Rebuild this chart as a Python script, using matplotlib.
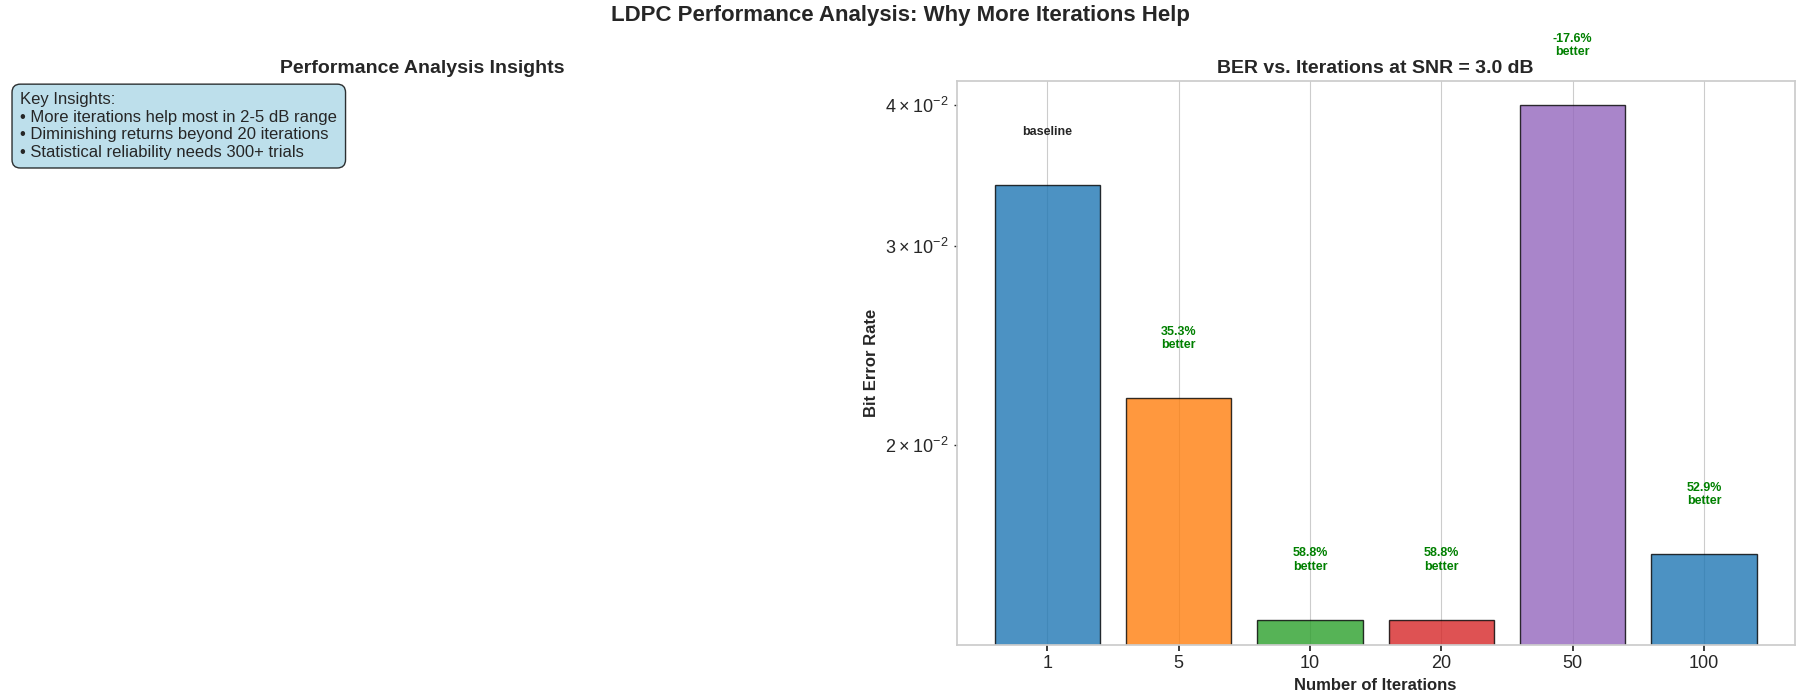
import numpy as np
import matplotlib
matplotlib.use("Agg")
import matplotlib.pyplot as plt

plt.style.use("seaborn-v0_8-whitegrid")

# data
iterations = ["1", "5", "10", "20", "50", "100"]
ber = [0.034, 0.022, 0.014, 0.014, 0.040, 0.016]
bar_colors = ["#1f77b4", "#ff7f0e", "#2ca02c", "#d62728", "#9467bd", "#1f77b4"]
snr_db = 3.0

insights = ("Key Insights:\n"
            "\u2022 More iterations help most in 2-5 dB range\n"
            "\u2022 Diminishing returns beyond 20 iterations\n"
            "\u2022 Statistical reliability needs 300+ trials")

plt.rcParams["xtick.major.size"] = 4
plt.rcParams["xtick.major.width"] = 1.25
plt.rcParams["ytick.minor.size"] = 2.5
plt.rcParams["ytick.minor.width"] = 1.0
plt.rcParams["axes.linewidth"] = 1.25

fig = plt.figure(figsize=(18, 7), dpi=100)
fig.suptitle("LDPC Performance Analysis: Why More Iterations Help",
             fontsize=16, fontweight="bold", y=0.993)

# left panel: text only
ax1 = fig.add_axes([0.002, 0.079, 0.465, 0.805])
ax1.axis("off")
ax1.set_title("Performance Analysis Insights", fontsize=14, fontweight="bold")
ax1.text(0.02, 0.98, insights, transform=ax1.transAxes, fontsize=12,
         va="top", ha="left",
         bbox=dict(boxstyle="round,pad=0.5", facecolor="lightblue", alpha=0.8))

# right panel: BER bars
ax2 = fig.add_axes([0.5315, 0.079, 0.4655, 0.805])
x = np.arange(len(iterations))
ax2.bar(x, ber, width=0.8, color=bar_colors, alpha=0.8, edgecolor="black")
ax2.set_yscale("log")
ax2.set_ylim(min(ber) * 0.95, max(ber) * 1.05)
ax2.set_xticks(x)
ax2.set_xticklabels(iterations)
ax2.tick_params(axis="both", labelsize=13)
ax2.tick_params(axis="y", which="minor", labelsize=13)
ax2.grid(True, axis="x")
ax2.set_xlabel("Number of Iterations", fontsize=12, fontweight="bold")
ax2.set_ylabel("Bit Error Rate", fontsize=12, fontweight="bold")
ax2.set_title(f"BER vs. Iterations at SNR = {snr_db} dB", fontsize=14, fontweight="bold")

base = ber[0]
for i, v in enumerate(ber):
    if i == 0:
        ax2.text(i, v * 1.1, "baseline", ha="center", va="bottom",
                 fontsize=9, fontweight="bold")
    else:
        imp = (base - v) / base * 100
        ax2.text(i, v * 1.1, f"{imp:.1f}%\nbetter", ha="center", va="bottom",
                 fontsize=9, fontweight="bold", color="green")

plt.savefig("out.png", dpi=100)
